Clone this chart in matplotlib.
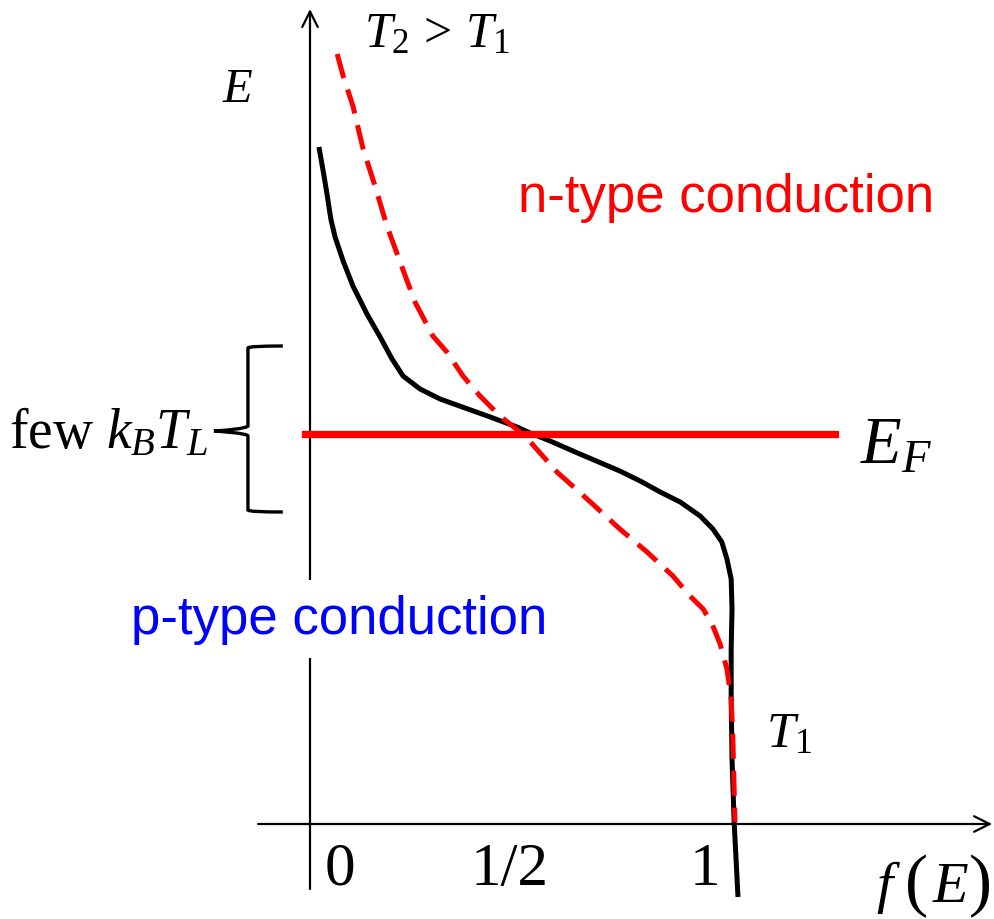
import matplotlib
matplotlib.use('Agg')
import matplotlib.pyplot as plt
from matplotlib.path import Path
from matplotlib.patches import PathPatch

plt.rcParams['font.family'] = ['Liberation Serif', 'DejaVu Serif']
plt.rcParams['mathtext.fontset'] = 'custom'
plt.rcParams['mathtext.rm'] = 'Liberation Serif'
plt.rcParams['mathtext.it'] = 'Liberation Serif:italic'

# occupation f(E) and energy E (relative to E_F)
f_T1 = [0.021, 0.031, 0.040, 0.049, 0.059, 0.078, 0.101, 0.134, 0.165, 0.193, 0.219,
        0.259, 0.306, 0.365, 0.424, 0.487, 0.518, 0.565, 0.635, 0.729, 0.777, 0.824,
        0.871, 0.918, 0.948, 0.969, 0.981, 0.991, 0.993, 0.991, 0.991, 0.993, 0.998, 1.007]
E_T1 = [2.87, 2.63, 2.40, 2.15, 1.97, 1.73, 1.48, 1.20, 0.97, 0.75, 0.58,
        0.45, 0.35, 0.26, 0.17, 0.07, 0.01, -0.07, -0.20, -0.37, -0.47, -0.58,
        -0.68, -0.82, -0.95, -1.08, -1.25, -1.45, -1.75, -2.15, -2.65, -3.25, -3.88, -4.63]

f_T2 = [0.064, 0.078, 0.101, 0.125, 0.153, 0.181, 0.212, 0.247, 0.289, 0.322, 0.360,
        0.400, 0.447, 0.506, 0.581, 0.652, 0.729, 0.793, 0.854, 0.894, 0.925, 0.946,
        0.965, 0.981, 0.991, 0.995, 1.000]
E_T2 = [3.80, 3.58, 3.28, 2.85, 2.48, 2.08, 1.72, 1.32, 0.98, 0.82, 0.58,
        0.38, 0.18, -0.02, -0.38, -0.65, -0.95, -1.18, -1.42, -1.62, -1.75, -1.90,
        -2.10, -2.35, -2.65, -3.05, -3.88]

E_F = 0.0
ef_range = [-0.012, 1.235]
brace_top, brace_bot = 0.88, -0.78
tick_pos = [0.07, 0.47, 0.93]
tick_labels = ['0', '1/2', '1']

fig = plt.figure(figsize=(9.94, 9.2), dpi=100)
ax = fig.add_axes([0, 0, 1, 1])
ax.set_xlim(-0.7294, 1.6094)
ax.set_ylim(-4.85, 4.35)
ax.axis('off')

# axes with arrows
arrow = dict(arrowstyle='->', lw=1.6, color='black', mutation_scale=28,
             shrinkA=0, shrinkB=0)
ax.annotate('', xy=(0, 4.25), xytext=(0, -4.55), arrowprops=arrow, zorder=1)
ax.annotate('', xy=(1.605, -3.9), xytext=(-0.122, -3.9), arrowprops=arrow, zorder=1)

# curves
ax.plot(f_T1, E_T1, color='black', lw=3.6, solid_capstyle='butt',
        solid_joinstyle='round', zorder=3)
ax.plot(f_T2, E_T2, color='red', lw=3.6, linestyle=(0, (5, 2.4)),
        dash_joinstyle='round', zorder=4)
ax.plot(ef_range, [E_F, E_F], color='red', lw=5.2, zorder=5)

# brace
xr, xm, xt = -0.064, -0.146, -0.226
mid = E_F + 0.03
verts = [(xr, brace_top), (xm, brace_top), (xm, brace_top - 0.02), (xm, brace_top - 0.2),
         (xm, mid + 0.05), (xm, mid + 0.05), (xm, mid + 0.02),
         (xt, mid), (xt, mid), (xm, mid - 0.02), (xm, mid - 0.05),
         (xm, brace_bot + 0.2), (xm, brace_bot + 0.02), (xm, brace_bot), (xr, brace_bot)]
codes = [Path.MOVETO, Path.CURVE3, Path.CURVE3, Path.LINETO,
         Path.LINETO, Path.CURVE4, Path.CURVE4, Path.CURVE4,
         Path.CURVE4, Path.CURVE4, Path.CURVE4,
         Path.LINETO, Path.LINETO, Path.CURVE3, Path.CURVE3]
ax.add_patch(PathPatch(Path(verts, codes), fill=False, lw=2.4, edgecolor='black',
                       capstyle='butt'))

ax.text(-0.17, 3.45, '$E$', fontsize=35, ha='center', va='center')
ax.text(0.30, 4.0, r'$T_{2}\,>\,T_{1}$', fontsize=36, ha='center', va='center')
ax.text(1.38, E_F - 0.12, r'$E_{F}$', fontsize=48, ha='center', va='center')
ax.text(-0.240, E_F - 0.13, r'few $k_{B}T_{L}$', fontsize=40, ha='right', va='baseline')
ax.text(1.127, -3.0, r'$T_{1}$', fontsize=37, ha='center', va='center')

# f(E) label with tall parentheses
ax.text(1.351, -4.67, 'f', fontsize=42, style='italic', ha='center', va='baseline')
ax.text(1.428, -4.68, '(', fontsize=50, ha='center', va='baseline')
ax.text(1.508, -4.67, 'E', fontsize=42, style='italic', ha='center', va='baseline')
ax.text(1.578, -4.68, ')', fontsize=50, ha='center', va='baseline')

for p, lab in zip(tick_pos, tick_labels):
    ax.text(p, -4.35, lab, fontsize=44, ha='center', va='center')

ax.text(0.98, 2.37, 'n-type conduction', fontsize=38, family='Liberation Sans',
        color='red', ha='center', va='center')
ax.text(0.068, -1.85, 'p-type conduction', fontsize=38, family='Liberation Sans',
        color='blue', ha='center', va='center', zorder=6,
        bbox=dict(facecolor='white', edgecolor='none', pad=10))

fig.savefig('out.png', dpi=100)
